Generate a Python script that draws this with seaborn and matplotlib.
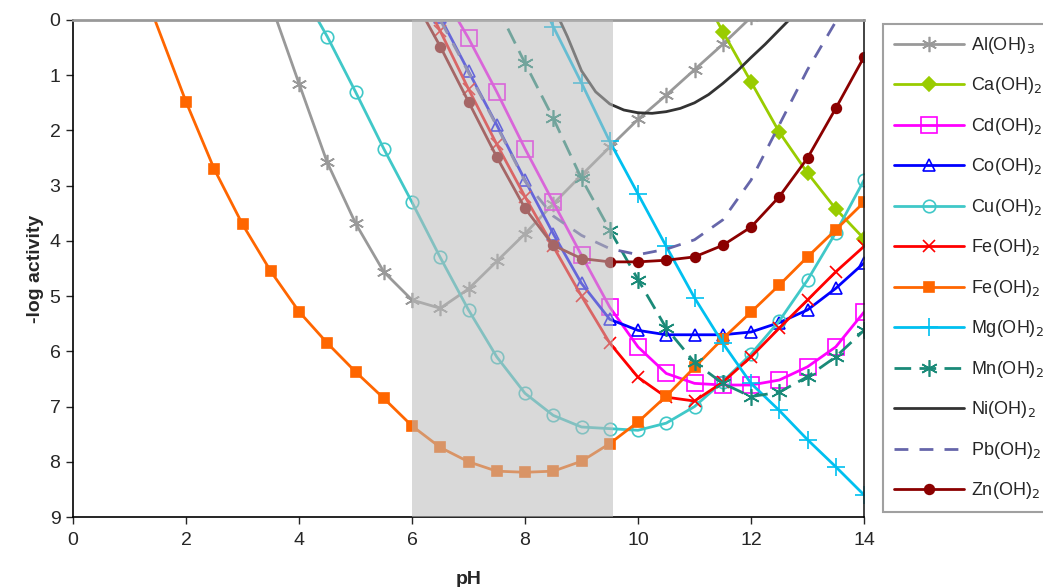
import numpy as np
import matplotlib
matplotlib.use('Agg')
import matplotlib.pyplot as plt
import seaborn as sns

# pH grids (0.5 steps) and -log activity
ph_al = np.arange(3.5, 12.01, 0.5)
al_oh3 = [-0.3, 1.15, 2.58, 3.68, 4.56, 5.07, 5.22, 4.87, 4.37, 3.87, 3.33, 2.81, 2.3, 1.8, 1.36, 0.9, 0.44, -0.05]

ph_ca = np.arange(11.0, 14.01, 0.5)
ca_oh2 = [-0.75, 0.21, 1.12, 2.03, 2.77, 3.42, 3.96]

ph_cd = np.arange(6.5, 14.01, 0.5)
cd_oh2 = [-0.55, 0.33, 1.3, 2.33, 3.3, 4.26, 5.2, 5.92, 6.4, 6.58, 6.61, 6.61, 6.52, 6.28, 5.92, 5.29]

ph_co = np.arange(6.0, 14.01, 0.5)
co_oh2 = [-1.0, -0.05, 0.93, 1.9, 2.9, 3.87, 4.77, 5.42, 5.62, 5.7, 5.7, 5.7, 5.65, 5.48, 5.25, 4.86, 4.4]

ph_cu = np.arange(4.0, 14.01, 0.5)
cu_oh2 = [-0.6, 0.3, 1.3, 2.33, 3.3, 4.3, 5.25, 6.1, 6.76, 7.16, 7.37, 7.4, 7.43, 7.3, 7.0, 6.55, 6.05, 5.45, 4.71, 3.85, 2.9]

ph_fe = np.arange(6.0, 14.01, 0.5)
fe_oh2 = [-0.8, 0.2, 1.25, 2.25, 3.2, 4.1, 5.0, 5.85, 6.47, 6.83, 6.9, 6.56, 6.1, 5.58, 5.07, 4.56, 4.1]

ph_fe_b = [1.45] + list(np.arange(2.0, 14.01, 0.5))
fe_oh2_b = [0.0, 1.48, 2.7, 3.7, 4.55, 5.28, 5.85, 6.37, 6.85, 7.35, 7.74, 8.0, 8.17, 8.19, 8.17, 7.99,
            7.67, 7.28, 6.81, 6.29, 5.77, 5.29, 4.8, 4.29, 3.8, 3.3]

ph_mg = np.arange(8.0, 14.01, 0.5)
mg_oh2 = [-1.0, 0.12, 1.14, 2.2, 3.15, 4.1, 5.03, 5.85, 6.58, 7.07, 7.6, 8.09, 8.6]

ph_mn = np.arange(7.5, 14.01, 0.5)
mn_oh2 = [-0.25, 0.78, 1.78, 2.87, 3.8, 4.7, 5.58, 6.2, 6.58, 6.82, 6.74, 6.46, 6.1, 5.62]

# no markers on Ni, read at 0.25 steps
ph_ni = np.arange(8.5, 13.01, 0.25)
ni_oh2 = [-0.25, 0.3, 0.92, 1.3, 1.52, 1.63, 1.68, 1.69, 1.66, 1.6, 1.5, 1.35, 1.15, 0.93, 0.68, 0.44, 0.18, -0.08, -0.35]

ph_pb = np.arange(6.0, 14.01, 0.5)
pb_oh2 = [-1.0, 0.0, 0.95, 1.92, 2.92, 3.55, 3.9, 4.14, 4.25, 4.15, 3.98, 3.62, 2.9, 1.9, 0.9, 0.03, -0.9]

ph_zn = np.arange(6.0, 14.01, 0.5)
zn_oh2 = [-0.45, 0.48, 1.48, 2.48, 3.41, 4.08, 4.32, 4.38, 4.38, 4.35, 4.29, 4.08, 3.75, 3.2, 2.5, 1.6, 0.67]

labels = ['Al(OH)$_3$', 'Ca(OH)$_2$', 'Cd(OH)$_2$', 'Co(OH)$_2$', 'Cu(OH)$_2$', 'Fe(OH)$_2$',
          'Fe(OH)$_2$', 'Mg(OH)$_2$', 'Mn(OH)$_2$', 'Ni(OH)$_2$', 'Pb(OH)$_2$', 'Zn(OH)$_2$']
series = [(ph_al, al_oh3), (ph_ca, ca_oh2), (ph_cd, cd_oh2), (ph_co, co_oh2), (ph_cu, cu_oh2),
          (ph_fe, fe_oh2), (ph_fe_b, fe_oh2_b), (ph_mg, mg_oh2), (ph_mn, mn_oh2), (ph_ni, ni_oh2),
          (ph_pb, pb_oh2), (ph_zn, zn_oh2)]

# color, marker, size, filled, linestyle
styles = [
    ('#999999', (6, 2, 0), 11, True, '-'),
    ('#99cc00', 'D', 7, True, '-'),
    ('#ff00ff', 's', 11, False, '-'),
    ('#0000ff', '^', 9, False, '-'),
    ('#40c8c8', 'o', 9, False, '-'),
    ('#ff0000', 'x', 8, True, '-'),
    ('#ff6600', 's', 7, True, '-'),
    ('#00c0f0', '+', 13, True, '-'),
    ('#1a8a78', (6, 2, 0), 12, True, (0, (6, 3))),
    ('#333333', '', 0, True, '-'),
    ('#6666aa', '', 0, True, (0, (5, 4))),
    ('#8b0000', 'o', 7, True, '-'),
]

sns.set_style('ticks')
plt.rcParams['font.family'] = ['Liberation Sans', 'DejaVu Sans']

fig = plt.figure(figsize=(10.43, 5.87), dpi=100)
ax = fig.add_axes([73 / 1043, 1 - 517 / 587, (864 - 73) / 1043, (517 - 20) / 587])

for (x, y), lab, (col, mk, ms, filled, ls) in zip(series, labels, styles):
    extra = {}
    if col == '#ff6600':
        extra['markevery'] = slice(1, None)
    sns.lineplot(x=list(x), y=y, ax=ax, color=col, marker=mk if mk else None, markersize=ms,
                 markerfacecolor=col if filled else 'none', markeredgecolor=col,
                 markeredgewidth=1.2, linestyle=ls, linewidth=2, label=lab, sort=False,
                 estimator=None, legend=False, **extra)

# shaded pH window drawn over the curves
ax.axvspan(6.0, 9.55, color='#bbbbbb', alpha=0.55, lw=0, zorder=3)

ax.set_xlim(0, 14)
ax.set_ylim(9, 0)
ax.set_xticks(range(0, 15, 2))
ax.set_yticks(range(0, 10))
ax.tick_params(labelsize=14, length=5, width=1, direction='out', pad=4)
ax.tick_params(axis='x', pad=6)
ax.set_xlabel('pH', fontsize=14, fontweight='bold', labelpad=16)
ax.set_ylabel('-log activity', fontsize=14, fontweight='bold', labelpad=4)

for s in ['left', 'bottom']:
    ax.spines[s].set_color('black')
    ax.spines[s].set_linewidth(1.2)
ax.spines['top'].set_color('#999999')
ax.spines['top'].set_linewidth(2)
ax.spines['right'].set_color('#222222')
ax.spines['right'].set_linewidth(1.2)

handles, labs = ax.get_legend_handles_labels()
leg = fig.legend(handles, labs, loc='upper left', bbox_to_anchor=(883 / 1043, 1 - 24 / 587),
                 fontsize=13, frameon=True, fancybox=False, edgecolor='#888888',
                 handlelength=3.9, handletextpad=0.4, labelspacing=1.08, borderpad=0.6,
                 borderaxespad=0)
leg.get_frame().set_linewidth(1.5)

fig.savefig('out.png', dpi=100)
